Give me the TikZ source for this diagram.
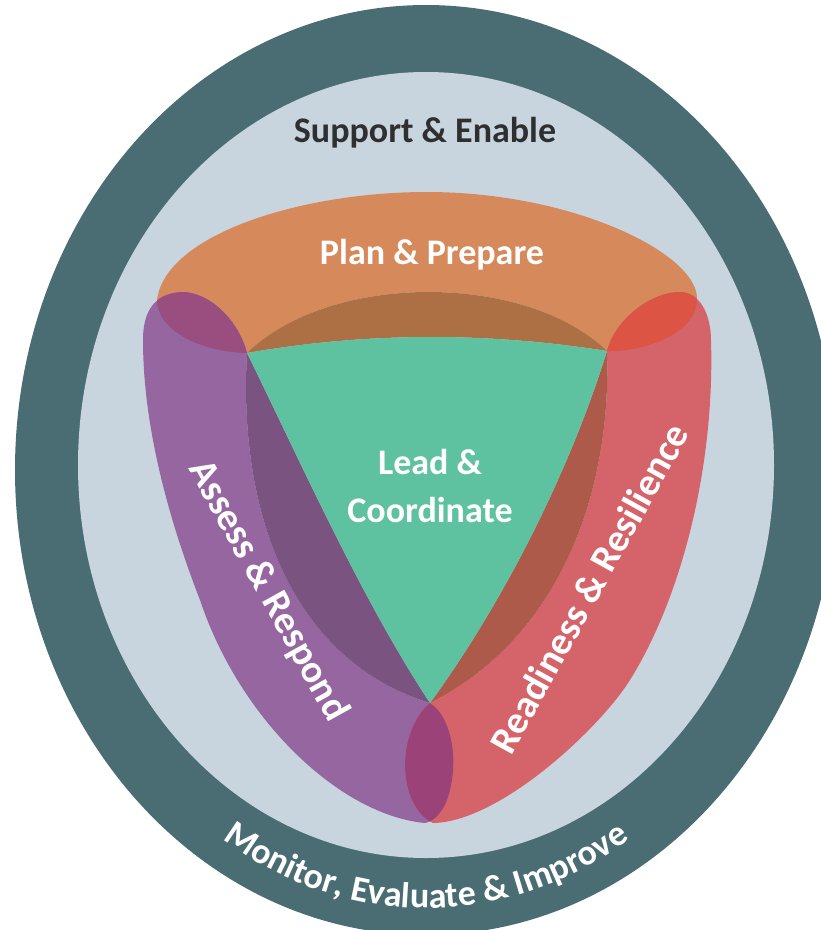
\documentclass[tikz,border=0pt]{standalone}
\usepackage{fontspec}
\setmainfont{Carlito}
\usetikzlibrary{decorations.text}
\definecolor{rimteal}{HTML}{4A6D74}
\definecolor{innergrey}{HTML}{C9D5DE}
\definecolor{planorange}{HTML}{D68A5C}
\definecolor{assesspurple}{HTML}{9566A0}
\definecolor{readyred}{HTML}{D5646A}
\definecolor{leadgreen}{HTML}{5EC2A1}
\definecolor{planshade}{HTML}{AD7045}
\definecolor{assessshade}{HTML}{7A5380}
\definecolor{readyshade}{HTML}{AE5A4B}
\definecolor{planassess}{HTML}{994E7F}
\definecolor{planready}{HTML}{DB5444}
\definecolor{assessready}{HTML}{9B4279}
\definecolor{supporttext}{HTML}{2F2F2F}
\newcommand{\planband}{(247,353) .. controls (330,272) and (525,272) .. (607,351) .. controls (650,352) and (697,330) .. (697,300) .. controls (700,255) and (575,192) .. (427,192) .. controls (300,192) and (165,235) .. (157,300) .. controls (157,330) and (200,352) .. (247,353) -- cycle}
\newcommand{\assessband}{(247,353) .. controls (238,510) and (290,660) .. (430,703) .. controls (448,715) and (455,745) .. (453,770) .. controls (451,800) and (440,820) .. (425,823) .. controls (340,815) and (240,720) .. (200,600) .. controls (165,510) and (143,420) .. (143,340) .. controls (143,300) and (165,292) .. (185,292) .. controls (215,295) and (240,325) .. (247,353) -- cycle}
\newcommand{\readyband}{(607,351) .. controls (612,500) and (555,640) .. (430,703) .. controls (415,715) and (405,740) .. (405,765) .. controls (405,790) and (415,815) .. (433,823) .. controls (500,822) and (600,728) .. (630,680) .. controls (680,600) and (715,470) .. (711,340) .. controls (711,315) and (700,292) .. (680,292) .. controls (650,292) and (615,320) .. (607,351) -- cycle}
\begin{document}
\begin{tikzpicture}[x=1pt,y=-1pt,line join=round,
    lbl/.style={font=\fontsize{36}{48}\selectfont\bfseries,text=white,inner sep=0pt},
    sidelbl/.style={lbl,font=\fontsize{39}{48}\selectfont\bfseries}]
    \useasboundingbox (0,0) rectangle (821,930);
    \clip (0,0) rectangle (821,930);
    \fill[white] (0,0) rectangle (821,930);
    \fill[rimteal] (426,470) ellipse [x radius=411,y radius=465];
    \fill[innergrey] (426,465) ellipse [x radius=348,y radius=393];
    \fill[planorange] \planband;
    \fill[assesspurple] \assessband;
    \fill[readyred] \readyband;
    \begin{scope}
        \clip \planband;
        \fill[planassess] \assessband;
        \fill[planready] \readyband;
    \end{scope}
    \begin{scope}
        \clip \assessband;
        \fill[assessready] \readyband;
    \end{scope}
    \fill[planshade] (247,353) .. controls (330,272) and (525,272) .. (607,351) .. controls (487,332) and (367,332) .. (247,353) -- cycle;
    \fill[assessshade] (247,353) .. controls (238,510) and (290,660) .. (430,703) .. controls (362,600) and (302,465) .. (247,353) -- cycle;
    \fill[readyshade] (607,351) .. controls (612,500) and (555,640) .. (430,703) .. controls (505,600) and (570,470) .. (607,351) -- cycle;
    \fill[leadgreen] (247,353) .. controls (367,332) and (487,332) .. (607,351) .. controls (570,470) and (505,600) .. (430,703) .. controls (362,600) and (302,465) .. (247,353) -- cycle;
    \node[lbl,text=supporttext] (support) at (425,133) {Support \& Enable};
    \node[lbl] (plan) at (432,255) {Plan \& Prepare};
    \node[lbl,align=center] (lead) at (430,486) {Lead \&\\Coordinate};
    \node[sidelbl,rotate=-61] (assess) at (268,591) {Assess \& Respond};
    \node[sidelbl,rotate=61] (ready) at (589,588) {Readiness \& Resilience};
    \coordinate (monstart) at (181.7,805.1);
    \path[decorate,decoration={text along path,text align=center,
        text={|\fontsize{36}{40}\selectfont\bfseries\color{white}|Monitor{,} Evaluate {\&} Improve}}]
        (monstart) arc[start angle=130,end angle=50,x radius=380,y radius=440];
\end{tikzpicture}
\end{document}
